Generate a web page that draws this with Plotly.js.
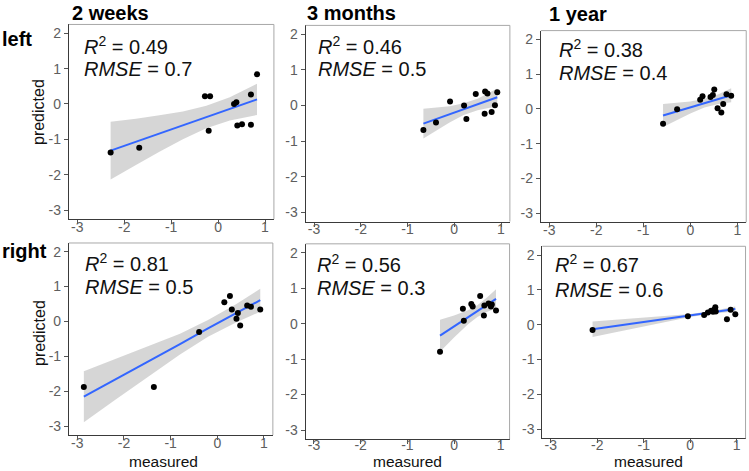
<!DOCTYPE html>
<html>
<head>
<meta charset="utf-8">
<script src="https://cdn.plot.ly/plotly-3.0.1.min.js"></script>
<style>html,body{margin:0;padding:0;background:#fff;}#chart{width:749px;height:471px;}</style>
</head>
<body>
<div id="chart"></div>
<script>
// ---------- data ----------
const sides = ["left", "right"];
const periods = ["2 weeks", "3 months", "1 year"];
const xTickVals = [-3, -2, -1, 0, 1];
const xTickText = ["-3", "-2", "-1", "0", "1"];
const yTickVals = [-3, -2, -1, 0, 1, 2];
const yTickText = ["-3", "-2", "-1", "0", "1", "2"];

const r2Labels   = ["0.49", "0.46", "0.38", "0.81", "0.56", "0.67"];
const rmseLabels = ["0.7", "0.5", "0.4", "0.5", "0.3", "0.6"];

// left, 2 weeks
const measured_L2w  = [-2.29, -1.68, -0.28, -0.17, -0.20, 0.34, 0.39, 0.41, 0.51, 0.70, 0.70, 0.83];
const predicted_L2w = [-1.37, -1.24, 0.22, 0.22, -0.76, 0.00, 0.05, -0.61, -0.57, 0.27, -0.59, 0.84];
const fitX_L2w  = [-2.29, -1.75, -1.25, -0.75, -0.25, 0.25, 0.83];
const fitY_L2w  = [-1.32, -1.07, -0.84, -0.61, -0.37, -0.14, 0.13];
const upper_L2w = [-0.50, -0.42, -0.32, -0.21, -0.05, 0.19, 0.57];
const lower_L2w = [-2.14, -1.73, -1.35, -1.00, -0.69, -0.47, -0.31];

// left, 3 months
const measured_L3m  = [-0.66, -0.39, -0.09, 0.21, 0.26, 0.46, 0.66, 0.71, 0.65, 0.80, 0.87, 0.92];
const predicted_L3m = [-0.69, -0.48, 0.11, 0.00, -0.38, 0.32, 0.39, 0.34, -0.23, -0.18, 0.01, 0.37];
const fitX_L3m  = [-0.66, -0.40, -0.10, 0.20, 0.50, 0.92];
const fitY_L3m  = [-0.51, -0.39, -0.25, -0.11, 0.03, 0.23];
const upper_L3m = [-0.09, -0.06, -0.02, 0.06, 0.19, 0.48];
const lower_L3m = [-0.93, -0.72, -0.48, -0.27, -0.13, -0.02];

// left, 1 year
const measured_L1y  = [-0.58, -0.28, 0.21, 0.26, 0.43, 0.48, 0.51, 0.70, 0.58, 0.66, 0.77, 0.87];
const predicted_L1y = [-0.43, -0.01, 0.26, 0.36, 0.34, 0.40, 0.56, 0.14, 0.02, -0.10, 0.42, 0.38];
const fitX_L1y  = [-0.58, -0.30, 0.00, 0.30, 0.60, 0.87];
const fitY_L1y  = [-0.19, -0.08, 0.04, 0.16, 0.28, 0.39];
const upper_L1y = [0.14, 0.17, 0.21, 0.29, 0.42, 0.59];
const lower_L1y = [-0.52, -0.33, -0.13, 0.04, 0.14, 0.19];

// right, 2 weeks
const measured_R2w  = [-2.86, -1.36, -0.39, 0.15, 0.27, 0.31, 0.44, 0.41, 0.49, 0.64, 0.72, 0.92];
const predicted_R2w = [-1.88, -1.88, -0.30, 0.55, 0.73, 0.34, 0.24, 0.08, -0.12, 0.46, 0.42, 0.34];
const fitX_R2w  = [-2.86, -2.20, -1.50, -0.80, -0.20, 0.40, 0.92];
const fitY_R2w  = [-2.16, -1.68, -1.16, -0.65, -0.20, 0.23, 0.61];
const upper_R2w = [-1.43, -1.09, -0.73, -0.35, 0.04, 0.49, 0.94];
const lower_R2w = [-2.89, -2.26, -1.60, -0.95, -0.44, -0.03, 0.28];

// right, 3 months
const measured_R3m  = [-0.30, 0.19, 0.21, 0.37, 0.40, 0.56, 0.65, 0.64, 0.74, 0.79, 0.81, 0.90];
const predicted_R3m = [-0.79, 0.42, 0.08, 0.55, 0.48, 0.78, 0.51, 0.23, 0.57, 0.48, 0.54, 0.37];
const fitX_R3m  = [-0.30, 0.00, 0.30, 0.50, 0.70, 0.90];
const fitY_R3m  = [-0.34, -0.08, 0.18, 0.35, 0.53, 0.70];
const upper_R3m = [0.11, 0.23, 0.38, 0.52, 0.73, 0.97];
const lower_R3m = [-0.79, -0.39, -0.02, 0.19, 0.33, 0.43];

// right, 1 year
const measured_R1y  = [-2.10, -0.05, 0.30, 0.38, 0.45, 0.49, 0.52, 0.54, 0.55, 0.79, 0.87, 0.97];
const predicted_R1y = [-0.15, 0.24, 0.28, 0.35, 0.40, 0.37, 0.44, 0.50, 0.38, 0.16, 0.43, 0.30];
const fitX_R1y  = [-2.10, -1.50, -1.00, -0.50, 0.00, 0.50, 0.97];
const fitY_R1y  = [-0.13, -0.02, 0.08, 0.17, 0.27, 0.36, 0.45];
const upper_R1y = [0.09, 0.15, 0.20, 0.25, 0.31, 0.40, 0.52];
const lower_R1y = [-0.35, -0.19, -0.04, 0.09, 0.22, 0.32, 0.38];

// ---------- layout helpers ----------
const W = 749, H = 471;
const XR = [-3.18, 1.19], YR = [-3.26, 2.25];
const FONT = "Liberation Sans, Arial, sans-serif";

// pixel calibration of each panel: positions of x=-3, x=1, y=2, y=-3
const calib = [
  {x3: 77.3, x1: 265.0, y2: 33.3, ym3: 210.0},
  {x3: 314.0, x1: 501.0, y2: 34.3, ym3: 212.3},
  {x3: 549.3, x1: 737.3, y2: 39.3, ym3: 213.3},
  {x3: 77.3, x1: 264.0, y2: 251.7, ym3: 426.0},
  {x3: 314.0, x1: 500.7, y2: 252.7, ym3: 430.0},
  {x3: 550.7, x1: 736.7, y2: 255.0, ym3: 429.3}
];
const xLabelStandoff = [-9, -9, -9, -9, -11, -10];
// annotation anchor pixels [left x, line1 y, line2 y]
const statPos = [
  [82, 46, 69], [316, 46, 69], [557, 49, 73],
  [83, 262, 287], [315, 263, 288], [553, 263, 290]
];

const panelData = [
  [measured_L2w, predicted_L2w, fitX_L2w, fitY_L2w, upper_L2w, lower_L2w],
  [measured_L3m, predicted_L3m, fitX_L3m, fitY_L3m, upper_L3m, lower_L3m],
  [measured_L1y, predicted_L1y, fitX_L1y, fitY_L1y, upper_L1y, lower_L1y],
  [measured_R2w, predicted_R2w, fitX_R2w, fitY_R2w, upper_R2w, lower_R2w],
  [measured_R3m, predicted_R3m, fitX_R3m, fitY_R3m, upper_R3m, lower_R3m],
  [measured_R1y, predicted_R1y, fitX_R1y, fitY_R1y, upper_R1y, lower_R1y]
];

const px = v => v / W;
const py = v => 1 - v / H;

const traces = [];
const layout = {
  width: W, height: H,
  margin: {l: 0, r: 0, t: 0, b: 0},
  paper_bgcolor: "#fff", plot_bgcolor: "#fff",
  showlegend: false,
  font: {family: FONT, color: "#000"},
  annotations: [], shapes: []
};

panelData.forEach((d, i) => {
  const k = i + 1;
  const xa = "x" + (k === 1 ? "" : k), ya = "y" + (k === 1 ? "" : k);
  const c = calib[i];
  const ux = (c.x1 - c.x3) / 4, uy = (c.ym3 - c.y2) / 5;
  const left = c.x3 - (-3 - XR[0]) * ux;
  const right = c.x1 + (XR[1] - 1) * ux;
  const top = c.y2 - (YR[1] - 2) * uy;
  const bottom = c.ym3 + (-3 - YR[0]) * uy;

  const axCommon = {
    showgrid: false, zeroline: false, showline: true, linecolor: "#3a3a3a", linewidth: 1,
    ticks: "outside", ticklen: 4, tickwidth: 1, tickcolor: "#555",
    tickfont: {family: FONT, size: 14, color: "#5e5e5e"}, fixedrange: true
  };
  layout["xaxis" + (k === 1 ? "" : k)] = Object.assign({}, axCommon, {
    domain: [px(left), px(right)], range: XR, anchor: ya,
    tickmode: "array", tickvals: xTickVals, ticktext: xTickText,
    ticklabelstandoff: xLabelStandoff[i]
  });
  layout["yaxis" + (k === 1 ? "" : k)] = Object.assign({}, axCommon, {
    domain: [py(bottom), py(top)], range: YR, anchor: xa,
    tickmode: "array", tickvals: yTickVals, ticktext: yTickText
  });

  // panel box (top/right lighter)
  layout.shapes.push({type: "line", xref: "paper", yref: "paper",
    x0: px(left), x1: px(right), y0: py(top), y1: py(top), line: {color: "#a8a8a8", width: 1}});
  layout.shapes.push({type: "line", xref: "paper", yref: "paper",
    x0: px(right), x1: px(right), y0: py(top), y1: py(bottom), line: {color: "#a8a8a8", width: 1}});

  const [mx, my, fx, fy, up, lo] = d;
  traces.push({
    type: "scatter", mode: "lines", xaxis: xa, yaxis: ya,
    x: fx.concat(fx.slice().reverse()),
    y: up.concat(lo.slice().reverse()),
    fill: "toself", fillcolor: "rgba(153,153,153,0.4)", line: {width: 0}, hoverinfo: "skip"
  });
  traces.push({
    type: "scatter", mode: "lines", xaxis: xa, yaxis: ya,
    x: fx, y: fy, line: {color: "#3366FF", width: 2}
  });
  traces.push({
    type: "scatter", mode: "markers", xaxis: xa, yaxis: ya,
    x: mx, y: my, marker: {color: "#000", size: 6}
  });

  const sp = statPos[i];
  layout.annotations.push({
    xref: "paper", yref: "paper", x: px(sp[0]), y: py(sp[1]), xanchor: "left", yanchor: "middle",
    text: "<i>R</i><sup>2</sup> = " + r2Labels[i], showarrow: false,
    font: {family: FONT, size: 20, color: "#111"}
  });
  layout.annotations.push({
    xref: "paper", yref: "paper", x: px(sp[0]), y: py(sp[2]), xanchor: "left", yanchor: "middle",
    text: "<i>RMSE</i> = " + rmseLabels[i], showarrow: false,
    font: {family: FONT, size: 20, color: "#111"}
  });
});

// column titles
const colTitlePos = [[70, 13], [305, 13], [547, 14]];
periods.forEach((t, j) => {
  layout.annotations.push({
    xref: "paper", yref: "paper", x: px(colTitlePos[j][0]), y: py(colTitlePos[j][1]),
    xanchor: "left", yanchor: "middle", text: "<b>" + t + "</b>", showarrow: false,
    font: {family: FONT, size: 20, color: "#000"}
  });
});
// row titles
const rowTitlePos = [[0, 39], [0, 251]];
sides.forEach((t, j) => {
  layout.annotations.push({
    xref: "paper", yref: "paper", x: px(rowTitlePos[j][0]), y: py(rowTitlePos[j][1]),
    xanchor: "left", yanchor: "middle", text: "<b>" + t + "</b>", showarrow: false,
    font: {family: FONT, size: 20, color: "#000"}
  });
});
// axis titles
[[39, 112], [39, 333]].forEach(p => {
  layout.annotations.push({
    xref: "paper", yref: "paper", x: px(p[0]), y: py(p[1]), xanchor: "center", yanchor: "middle",
    text: "predicted", textangle: -90, showarrow: false,
    font: {family: FONT, size: 16, color: "#111"}
  });
});
[163, 407, 648].forEach(xp => {
  layout.annotations.push({
    xref: "paper", yref: "paper", x: px(xp), y: 0, xanchor: "center", yanchor: "bottom",
    borderpad: 0, text: "measured", showarrow: false,
    font: {family: FONT, size: 15.5, color: "#111"}
  });
});

Plotly.newPlot("chart", traces, layout, {staticPlot: true, displayModeBar: false});
</script>
</body>
</html>
